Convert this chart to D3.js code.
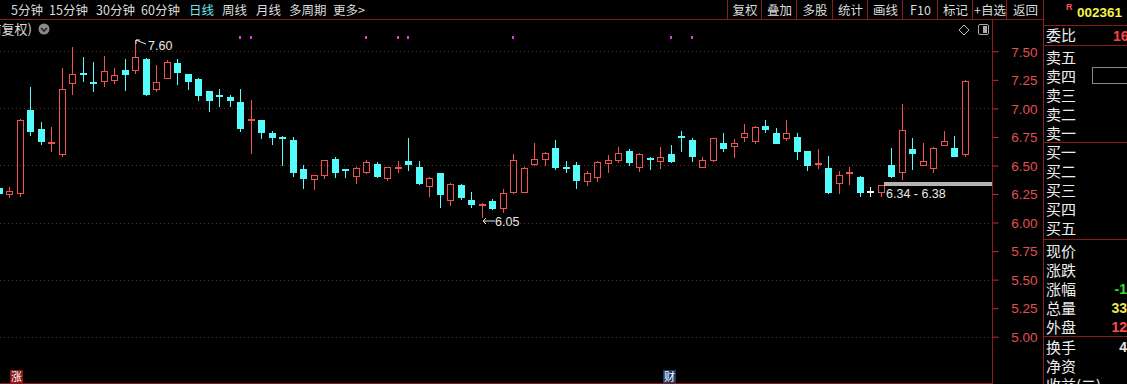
<!DOCTYPE html>
<html>
<head>
<meta charset="utf-8">
<script src="https://cdn.jsdelivr.net/npm/d3@7"></script>
<style>
  html, body { margin: 0; padding: 0; background: #000; overflow: hidden; }
  svg { display: block; }
</style>
</head>
<body>
<svg id="kline" width="1127" height="384"></svg>
<script>
// daily K-line, 002361 (front-adjusted)
const opens = [6.30, 6.25, 6.26, 6.99, 6.82, 6.685, 6.60, 7.22, 7.30, 7.22, 7.24, 7.25, 7.34, 7.34, 7.43, 7.17, 7.27, 7.40, 7.30, 7.26,
  7.15, 7.11, 7.10, 7.06, 6.88, 6.90, 6.78, 6.74, 6.72, 6.47, 6.38, 6.42, 6.56, 6.46, 6.41, 6.44, 6.51, 6.39, 6.46, 6.54,
  6.49, 6.32, 6.43, 6.20, 6.33, 6.20, 6.142, 6.19, 6.13, 6.27, 6.27, 6.51, 6.56, 6.65, 6.48, 6.50, 6.36, 6.40, 6.52, 6.55,
  6.63, 6.49, 6.56, 6.54, 6.60, 6.75, 6.72, 6.49, 6.55, 6.70, 6.67, 6.75, 6.71, 6.85, 6.78, 6.74, 6.75, 6.63, 6.502, 6.48,
  6.35, 6.422, 6.40, 6.27, 6.27, 6.50, 6.44, 6.64, 6.50, 6.48, 6.68, 6.65, 6.60];
const highs = [6.31, 6.31, 6.91, 7.19, 6.88, 6.84, 7.35, 7.54, 7.45, 7.41, 7.46, 7.35, 7.43, 7.60, 7.44, 7.38, 7.42, 7.43, 7.30, 7.27,
  7.15, 7.17, 7.12, 7.17, 7.07, 6.90, 6.80, 6.76, 6.75, 6.50, 6.42, 6.55, 6.57, 6.47, 6.49, 6.55, 6.53, 6.49, 6.54, 6.74,
  6.54, 6.40, 6.43, 6.35, 6.34, 6.27, 6.17, 6.21, 6.29, 6.60, 6.49, 6.70, 6.62, 6.72, 6.54, 6.53, 6.45, 6.54, 6.59, 6.66,
  6.64, 6.61, 6.57, 6.66, 6.68, 6.80, 6.74, 6.57, 6.74, 6.78, 6.73, 6.86, 6.85, 6.90, 6.83, 6.90, 6.78, 6.63, 6.64, 6.58,
  6.45, 6.49, 6.41, 6.31, 6.33, 6.65, 7.04, 6.74, 6.70, 6.66, 6.80, 6.76, 7.25];
const lows = [6.25, 6.22, 6.23, 6.77, 6.69, 6.63, 6.58, 7.13, 7.24, 7.155, 7.20, 7.225, 7.16, 7.31, 7.12, 7.155, 7.27, 7.21, 7.17, 7.07,
  6.98, 7.02, 7.02, 6.80, 6.61, 6.74, 6.69, 6.50, 6.41, 6.30, 6.29, 6.39, 6.40, 6.40, 6.35, 6.43, 6.40, 6.37, 6.44, 6.46,
  6.34, 6.23, 6.14, 6.15, 6.21, 6.14, 6.05, 6.12, 6.09, 6.26, 6.27, 6.50, 6.50, 6.47, 6.44, 6.30, 6.33, 6.36, 6.44, 6.53,
  6.50, 6.45, 6.47, 6.48, 6.53, 6.63, 6.54, 6.49, 6.54, 6.63, 6.57, 6.71, 6.70, 6.79, 6.70, 6.72, 6.56, 6.46, 6.48, 6.26,
  6.26, 6.34, 6.23, 6.23, 6.23, 6.40, 6.38, 6.47, 6.50, 6.44, 6.68, 6.58, 6.58];
const closes = [6.26, 6.28, 6.90, 6.80, 6.71, 6.695, 7.17, 7.30, 7.29, 7.21, 7.33, 7.29, 7.30, 7.45, 7.13, 7.23, 7.41, 7.32, 7.24, 7.12,
  7.07, 7.10, 7.07, 6.83, 6.90, 6.79, 6.75, 6.72, 6.44, 6.39, 6.42, 6.55, 6.44, 6.44, 6.48, 6.53, 6.41, 6.49, 6.48, 6.51,
  6.35, 6.39, 6.25, 6.34, 6.22, 6.16, 6.152, 6.13, 6.26, 6.55, 6.48, 6.56, 6.61, 6.49, 6.47, 6.37, 6.43, 6.53, 6.55, 6.61,
  6.53, 6.60, 6.55, 6.57, 6.54, 6.74, 6.58, 6.55, 6.74, 6.65, 6.70, 6.78, 6.84, 6.82, 6.70, 6.78, 6.63, 6.50, 6.512, 6.27,
  6.42, 6.432, 6.27, 6.27, 6.33, 6.41, 6.81, 6.61, 6.54, 6.65, 6.71, 6.58, 7.24];

const priceTicks = [5.00, 5.25, 5.50, 5.75, 6.00, 6.25, 6.50, 6.75, 7.00, 7.25, 7.50];
const gridPrices = [5.00, 5.50, 6.00, 6.50, 7.00, 7.50];

const periodTabs = ["5分钟", "15分钟", "30分钟", "60分钟", "日线", "周线", "月线", "多周期", "更多>"];
const toolButtons = ["复权", "叠加", "多股", "统计", "画线", "F10", "标记", "+自选", "返回"];
const quoteLabels = ["卖五", "卖四", "卖三", "卖二", "卖一", "买一", "买二", "买三", "买四", "买五",
  "现价", "涨跌", "涨幅", "总量", "外盘", "换手", "净资", "收益(二)"];
const quoteValues = { "涨幅": ["-1", "#2ee22e"], "总量": ["33", "#e8e84a"], "外盘": ["12", "#ff4a4a"], "换手": ["4", "#e6e6e6"] };
const markerDays = [23, 24, 35, 38, 39, 49, 64, 66];
const chipRange = [6.34, 6.38];

const RED = "#f05252", CYAN = "#54fcfc", GRID = "#6e2626", FRAME = "#8c1c1c";
const cjk = "'Noto Sans CJK SC', sans-serif";
const num = "'Liberation Sans', Arial, sans-serif";

const svg = d3.select("#kline");
svg.append("rect").attr("width", 1127).attr("height", 384).attr("fill", "#000");

const first = -1;
const x = d3.scaleLinear().domain([0, 91]).range([9.3, 964.8]);
const y = d3.scaleLinear().domain([5.0, 7.5]).range([336.7, 51.3]);
const cx = i => Math.round(x(i + first));
const py = v => Math.round(y(v));

// ---- header tabs
const tabX = [11, 49, 96, 141, 189, 222, 256, 289, 333];
svg.selectAll("text.tab").data(periodTabs).enter().append("text")
  .attr("x", (d, i) => tabX[i]).attr("y", 14.5)
  .attr("font-family", cjk).attr("font-size", 12.5)
  .attr("fill", d => d === "日线" ? "#6ee6f2" : "#dcdcdc")
  .text(d => d);
svg.append("line").attr("x1", 0).attr("x2", 727).attr("y1", 19.5).attr("y2", 19.5).attr("stroke", FRAME);

// ---- tool buttons
const btnEdges = [727, 761, 796, 832, 867, 902, 937, 972, 1006, 1043];
btnEdges.forEach(e => svg.append("line").attr("x1", e + 0.5).attr("x2", e + 0.5).attr("y1", 0).attr("y2", 19)
  .attr("stroke", FRAME));
svg.append("line").attr("x1", 727).attr("x2", 1043).attr("y1", 19.5).attr("y2", 19.5).attr("stroke", FRAME);
svg.selectAll("text.btn").data(toolButtons).enter().append("text")
  .attr("x", (d, i) => (btnEdges[i] + btnEdges[i + 1]) / 2 + 1).attr("y", 14.5)
  .attr("text-anchor", "middle").attr("font-family", cjk).attr("font-size", 12.5)
  .attr("fill", "#dcdcdc").text(d => d);

// ---- second row
svg.append("text").attr("x", 32).attr("y", 34).attr("text-anchor", "end")
  .attr("font-family", cjk).attr("font-size", 13).attr("fill", "#dcdcdc").text("前复权)");
svg.append("circle").attr("cx", 44).attr("cy", 29).attr("r", 5.5).attr("fill", "#8a8a8a");
svg.append("path").attr("d", "M41,28 L44,31 L47,28").attr("fill", "none").attr("stroke", "#222").attr("stroke-width", 1.6);
svg.append("path").attr("d", "M964,25 L969,30 L964,35 L959,30 Z").attr("fill", "none").attr("stroke", "#bbb");
svg.append("rect").attr("x", 978.5).attr("y", 24.5).attr("width", 10).attr("height", 10).attr("rx", 1.5)
  .attr("fill", "none").attr("stroke", "#aaa");
svg.append("rect").attr("x", 983).attr("y", 26).attr("width", 4).attr("height", 7).attr("fill", "#aaa");

// event markers
svg.selectAll("rect.mark").data(markerDays).enter().append("rect")
  .attr("x", d => cx(d) - 1).attr("y", 36).attr("width", 2).attr("height", 3).attr("fill", "#e040e0");

// ---- frame lines
svg.append("line").attr("x1", 0).attr("x2", 992).attr("y1", 19.5).attr("y2", 19.5).attr("stroke", FRAME);
svg.append("line").attr("x1", 992.5).attr("x2", 992.5).attr("y1", 19).attr("y2", 384).attr("stroke", FRAME);
svg.append("line").attr("x1", 1043.5).attr("x2", 1043.5).attr("y1", 0).attr("y2", 384).attr("stroke", FRAME);
svg.append("line").attr("x1", 0).attr("x2", 992).attr("y1", 383.5).attr("y2", 383.5).attr("stroke", FRAME);

// ---- grid
svg.selectAll("line.grid").data(gridPrices).enter().append("line")
  .attr("x1", 0).attr("x2", 990).attr("y1", d => py(d) + 0.5).attr("y2", d => py(d) + 0.5)
  .attr("stroke", GRID).attr("stroke-dasharray", "1,3");

// ---- price axis
const axisG = svg.append("g").attr("transform", "translate(992.5,0)");
const axis = d3.axisRight(y).tickValues(priceTicks).tickFormat(d3.format(".2f")).tickSize(6).tickPadding(0);
axisG.call(axis);
axisG.select(".domain").remove();
axisG.selectAll(".tick line").attr("stroke", "#c03030");
axisG.selectAll(".tick text").attr("x", 45).attr("text-anchor", "end").attr("dy", "0.35em")
  .attr("font-family", num).attr("font-size", 13.5).attr("fill", "#e05050");

// ---- candles
const days = d3.range(opens.length);
const colorOf = i => closes[i] > opens[i] ? RED : (closes[i] < opens[i] ? CYAN : "#f0f0f0");
const cg = svg.append("g");
days.forEach(i => {
  const c = cx(i), col = colorOf(i);
  const top = py(Math.max(opens[i], closes[i])), bot = py(Math.min(opens[i], closes[i]));
  const hi = py(highs[i]), lo = py(lows[i]);
  const thin = bot - top < 3;
  if (col === RED && !thin) {
    cg.append("line").attr("x1", c + 0.5).attr("x2", c + 0.5).attr("y1", hi).attr("y2", top).attr("stroke", col);
    cg.append("line").attr("x1", c + 0.5).attr("x2", c + 0.5).attr("y1", bot + 1).attr("y2", lo + 1).attr("stroke", col);
    cg.append("rect").attr("x", c - 2.5).attr("y", top + 0.5).attr("width", 6).attr("height", bot - top)
      .attr("fill", "none").attr("stroke", col);
  } else {
    cg.append("line").attr("x1", c + 0.5).attr("x2", c + 0.5).attr("y1", hi).attr("y2", lo + 1).attr("stroke", col);
    cg.append("rect").attr("x", c - 3).attr("y", thin ? top - 1 : top)
      .attr("width", 7).attr("height", thin ? 2 : bot - top + 1).attr("fill", col);
  }
});

// ---- high / low annotations
const hiIdx = d3.maxIndex(highs), loIdx = d3.minIndex(lows);
const hx = cx(hiIdx), hy = py(highs[hiIdx]);
svg.append("path").attr("d", `M${hx + 1},${hy} L${hx + 11},${hy + 4} M${hx + 1},${hy} l0,4 M${hx + 1},${hy} l4,0`)
  .attr("stroke", "#e8e8e8").attr("fill", "none");
svg.append("text").attr("x", hx + 13).attr("y", hy + 10).attr("font-family", num).attr("font-size", 12.5)
  .attr("fill", "#e8e8e8").text(highs[hiIdx].toFixed(2));
const lx = cx(loIdx), ly = py(lows[loIdx]) + 4;
svg.append("path").attr("d", `M${lx + 1},${ly} L${lx + 13},${ly} M${lx + 1},${ly} l3,-3 M${lx + 1},${ly} l3,3`)
  .attr("stroke", "#e8e8e8").attr("fill", "none");
svg.append("text").attr("x", lx + 13).attr("y", ly + 5).attr("font-family", num).attr("font-size", 12.5)
  .attr("fill", "#e8e8e8").text(lows[loIdx].toFixed(2));

// ---- chip range bar
svg.append("rect").attr("x", 884).attr("y", py(chipRange[0]) - 2).attr("width", 108).attr("height", 4).attr("fill", "#b4b4b4");
svg.append("text").attr("x", 886).attr("y", py(chipRange[0]) + 14).attr("font-family", num).attr("font-size", 12.5)
  .attr("fill", "#e8e8e8").text(chipRange[0].toFixed(2) + " - " + chipRange[1].toFixed(2));

// ---- bottom badges
svg.append("rect").attr("x", 10).attr("y", 370).attr("width", 13).attr("height", 13).attr("fill", "#8a1414");
svg.append("text").attr("x", 16.5).attr("y", 381).attr("text-anchor", "middle").attr("font-family", cjk)
  .attr("font-size", 11).attr("fill", "#fff").text("涨");
svg.append("rect").attr("x", 663).attr("y", 370).attr("width", 13).attr("height", 13).attr("fill", "#1c3c6c");
svg.append("text").attr("x", 669.5).attr("y", 381).attr("text-anchor", "middle").attr("font-family", cjk)
  .attr("font-size", 11).attr("fill", "#fff").text("财");

// ---- quote panel
svg.append("text").attr("x", 1066).attr("y", 10).attr("font-family", num).attr("font-size", 9).attr("font-weight", "bold")
  .attr("fill", "#ff5050").text("R");
svg.append("text").attr("x", 1077).attr("y", 17).attr("font-family", num).attr("font-size", 13.5).attr("font-weight", "bold")
  .attr("fill", "#f4f44a").text("002361");
[25, 45, 142, 239, 336].forEach(v => svg.append("line").attr("x1", 1043).attr("x2", 1127)
  .attr("y1", v + 0.5).attr("y2", v + 0.5).attr("stroke", FRAME));
svg.append("text").attr("x", 1046).attr("y", 41).attr("font-family", cjk).attr("font-size", 15)
  .attr("fill", "#eee").text("委比");
svg.append("text").attr("x", 1113).attr("y", 41).attr("font-family", num).attr("font-size", 14).attr("font-weight", "bold")
  .attr("fill", "#ff4040").text("16");
const rowY = [57, 76, 95, 114, 133, 152, 171, 190, 209, 228, 251, 270, 289, 308, 327, 347, 366, 385];
svg.selectAll("text.q").data(quoteLabels).enter().append("text")
  .attr("x", 1046).attr("y", (d, i) => rowY[i] + 5.5).attr("font-family", cjk).attr("font-size", 15)
  .attr("fill", "#eee").text(d => d);
quoteLabels.forEach((d, i) => {
  if (!quoteValues[d]) return;
  const [t, col] = quoteValues[d];
  svg.append("text").attr("x", 1127).attr("y", rowY[i] + 5).attr("text-anchor", "end")
    .attr("font-family", num).attr("font-size", 14).attr("font-weight", "bold").attr("fill", col).text(t);
});
svg.append("rect").attr("x", 1092.5).attr("y", 67.5).attr("width", 40).attr("height", 16)
  .attr("fill", "none").attr("stroke", "#888");
</script>
</body>
</html>
